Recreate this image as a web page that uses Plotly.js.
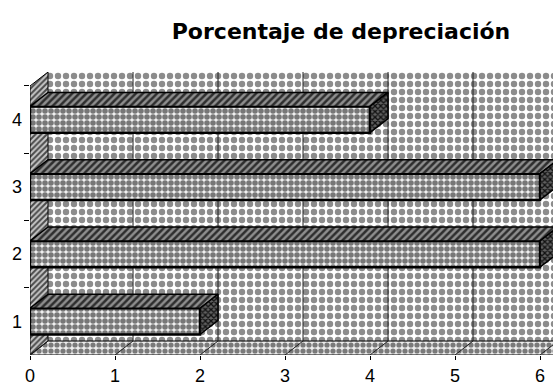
<!DOCTYPE html>
<html>
<head>
<meta charset="utf-8">
<script src="https://cdn.plot.ly/plotly-3.0.1.min.js"></script>
<style>
  html, body { margin: 0; padding: 0; background: #fff; }
  #chart { width: 553px; height: 385px; }
</style>
</head>
<body>
<div id="chart"></div>
<script>
// Depreciation percentage per period
const categories = [1, 2, 3, 4];
const values = [2, 6, 6, 4];
const xTicks = [0, 1, 2, 3, 4, 5, 6];
const yTicks = [1, 2, 3, 4];

// Box geometry (axis units): depth offset of the 3-D walls and bar thickness
const DX = 0.212, DY = 0.208;
const BAR_W = 0.39;
const X_MAX = 6.153, Y_MIN = 0.5, Y_MAX = 4.707;
const X_FAR = X_MAX + 1;

// Closed polygon helper; segments joined with null gaps
function polys(list) {
  const x = [], y = [];
  list.forEach(function (p, i) {
    if (i) { x.push(null); y.push(null); }
    p.forEach(function (pt) { x.push(pt[0]); y.push(pt[1]); });
    x.push(p[0][0]); y.push(p[0][1]);
  });
  return { x: x, y: y };
}

function face(list, pattern, bg, lineW, xa, ya) {
  const p = polys(list);
  return {
    type: 'scatter', mode: 'lines', x: p.x, y: p.y,
    xaxis: xa || 'x', yaxis: ya || 'y',
    fill: 'toself', fillcolor: bg,
    fillpattern: Object.assign({ bgcolor: bg }, pattern),
    line: { color: '#000', width: lineW },
    hoverinfo: 'skip', showlegend: false
  };
}

// Walls and floor (stippled grey, like a halftone print)
const backWall = face([[[DX, Y_MIN + DY], [X_FAR, Y_MIN + DY], [X_FAR, Y_MAX], [DX, Y_MAX]]],
  { shape: '.', fgcolor: '#8c8c8c', size: 8, solidity: 0.5 }, '#ffffff', 0);
const floor = face([[[0, Y_MIN], [X_FAR, Y_MIN], [X_FAR, Y_MIN + DY], [DX, Y_MIN + DY]]],
  { shape: '.', fgcolor: '#7a7a7a', size: 6, solidity: 0.6 }, '#ededed', 1);
const leftWall = face([[[0, Y_MIN], [DX, Y_MIN + DY], [DX, Y_MAX], [0, Y_MAX - DY]]],
  { shape: '/', fgcolor: '#4a4a4a', size: 4, solidity: 0.5 }, '#c8c8c8', 1);

// Grid lines on the back wall and across the floor
const gx = [], gy = [];
xTicks.forEach(function (t) {
  if (t > 0) { gx.push(t + DX, t + DX, null); gy.push(Y_MIN + DY, Y_MAX, null); }
  gx.push(t, t + DX, null); gy.push(Y_MIN, Y_MIN + DY, null);
});
const grid = {
  type: 'scatter', mode: 'lines', x: gx, y: gy,
  line: { color: '#222', width: 1 }, hoverinfo: 'skip', showlegend: false
};

// Bars: front faces, tops and right-hand ends
const barFront = {
  type: 'bar', orientation: 'h', x: values, y: categories, base: 0,
  xaxis: 'x2', yaxis: 'y2', width: BAR_W,
  marker: {
    color: '#f0f0f0',
    pattern: { shape: '.', fgcolor: '#777777', bgcolor: '#f0f0f0', size: 6, solidity: 0.68 },
    line: { color: '#000', width: 2.5 }
  },
  hoverinfo: 'x', showlegend: false
};

const tops = categories.map(function (c, i) {
  const v = values[i], y0 = c + BAR_W / 2;
  return [[0, y0], [v, y0], [v + DX, y0 + DY], [DX, y0 + DY]];
});
const ends = categories.map(function (c, i) {
  const v = values[i], y0 = c - BAR_W / 2, y1 = c + BAR_W / 2;
  return [[v, y0], [v, y1], [v + DX, y1 + DY], [v + DX, y0 + DY]];
});
const barTop = face(tops, { shape: '/', fgcolor: '#2e2e2e', size: 5, solidity: 0.5 }, '#8e8e8e', 1.5, 'x2', 'y2');
const barEnd = face(ends, { shape: 'x', fgcolor: '#111111', size: 4, solidity: 0.55 }, '#606060', 1.5, 'x2', 'y2');

const tickFont = { family: 'Liberation Sans, Arial, sans-serif', size: 18, color: '#000' };

const layout = {
  width: 553, height: 385,
  margin: { l: 30, r: 0, t: 72, b: 30, pad: 0 },
  paper_bgcolor: '#ffffff', plot_bgcolor: '#ffffff',
  title: {
    text: '<b>Porcentaje de depreciación</b>',
    font: { family: 'DejaVu Sans, Arial, sans-serif', size: 22, color: '#000' },
    x: 341 / 553, xanchor: 'center', xref: 'container',
    y: 1 - 31 / 385, yanchor: 'middle', yref: 'container'
  },
  xaxis: {
    range: [0, X_MAX], tickvals: xTicks, ticktext: xTicks.map(String),
    ticks: 'outside', ticklen: 4, tickcolor: '#000',
    showgrid: false, zeroline: false, showline: false,
    tickfont: tickFont, ticklabelstandoff: 0, fixedrange: true
  },
  yaxis: {
    range: [Y_MIN, Y_MAX], tickvals: yTicks, ticktext: yTicks.map(String),
    ticks: '', showgrid: false, zeroline: false, showline: false,
    minor: { tickvals: [1.5, 2.5, 3.5, 4.5], ticks: 'outside', ticklen: 5, tickcolor: '#000', showgrid: false },
    tickfont: tickFont, ticklabelstandoff: 7, fixedrange: true
  },
  xaxis2: { range: [0, X_MAX], overlaying: 'x', visible: false, fixedrange: true },
  yaxis2: { range: [Y_MIN, Y_MAX], overlaying: 'y', visible: false, fixedrange: true },
  bargap: 0
};

Plotly.newPlot('chart', [backWall, floor, leftWall, grid, barFront, barTop, barEnd], layout,
  { displayModeBar: false, staticPlot: true });
</script>
</body>
</html>
